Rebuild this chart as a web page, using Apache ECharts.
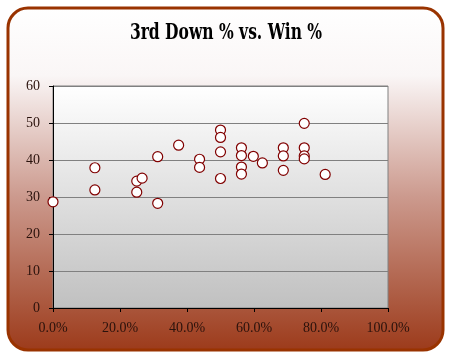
<!DOCTYPE html>
<html>
<head>
<meta charset="utf-8">
<script src="https://cdn.jsdelivr.net/npm/echarts@6/dist/echarts.min.js"></script>
<style>
html,body{margin:0;padding:0;background:#fff;}
#chart{width:454px;height:357px;}
</style>
</head>
<body>
<div id="chart"></div>
<script>
var titleText = '3rd Down % vs. Win %';
var winPct = [0, 12.5, 12.5, 25, 25, 26.6, 31.25, 31.25, 37.5, 43.75, 43.75, 50, 50, 50, 50, 56.25, 56.25, 56.25, 56.25, 59.8, 62.5, 68.75, 68.75, 68.75, 75, 75, 75, 75, 81.25];
var thirdDownPct = [28.7, 37.9, 31.9, 31.3, 34.3, 35.1, 40.9, 28.3, 44.0, 40.2, 38.0, 48.1, 46.1, 42.2, 35.0, 43.3, 41.2, 38.1, 36.2, 41.0, 39.2, 43.3, 41.1, 37.2, 49.9, 43.3, 41.1, 40.3, 36.1];

var points = winPct.map(function (w, i) { return [w, thirdDownPct[i]]; });
var labelFont = 'Liberation Serif, Times New Roman, serif';

var chart = echarts.init(document.getElementById('chart'));
chart.setOption({
  backgroundColor: 'transparent',
  animation: false,
  graphic: [{
    type: 'rect',
    z: -100,
    silent: true,
    shape: { x: 8, y: 8, width: 435, height: 342, r: 20 },
    style: {
      fill: {
        type: 'linear', x: 0, y: 0, x2: 0, y2: 1,
        colorStops: [
          { offset: 0, color: '#ffffff' },
          { offset: 0.2, color: '#faf6f6' },
          { offset: 0.55, color: '#cc9a8e' },
          { offset: 1, color: '#9c3a1a' }
        ]
      },
      stroke: '#993300',
      lineWidth: 3
    }
  }, {
    type: 'text',
    z: 10,
    silent: true,
    x: 226,
    y: 33,
    scaleX: 0.75,
    style: {
      text: titleText,
      x: 0, y: 0,
      align: 'center',
      verticalAlign: 'middle',
      fontFamily: 'DejaVu Serif Condensed, DejaVu Serif, serif',
      fontWeight: 'bold',
      fontSize: 23,
      fill: '#000'
    }
  }],
  grid: {
    left: 53, top: 86, right: 66, bottom: 49,
    show: true,
    borderColor: '#808080',
    borderWidth: 1,
    backgroundColor: {
      type: 'linear', x: 0, y: 0, x2: 0, y2: 1,
      colorStops: [
        { offset: 0, color: '#ffffff' },
        { offset: 1, color: '#c0c0c0' }
      ]
    }
  },
  xAxis: {
    type: 'value',
    min: 0, max: 100, interval: 20,
    axisLine: { show: true, onZero: false, lineStyle: { color: '#000', width: 1 } },
    axisTick: { show: true, length: 4, lineStyle: { color: '#000' } },
    splitLine: { show: false },
    axisLabel: {
      margin: 13,
      fontFamily: labelFont, fontSize: 14, color: '#2a120c',
      formatter: function (v) { return v.toFixed(1) + '%'; }
    }
  },
  yAxis: {
    type: 'value',
    min: 0, max: 60, interval: 10,
    axisLine: { show: true, onZero: false, lineStyle: { color: '#000', width: 1 } },
    axisTick: { show: true, length: 4, lineStyle: { color: '#000' } },
    splitLine: { show: true, lineStyle: { color: '#808080', width: 1 } },
    axisLabel: {
      margin: 13,
      fontFamily: labelFont, fontSize: 14, color: '#2a120c'
    }
  },
  series: [{
    type: 'scatter',
    data: points,
    symbol: 'circle',
    symbolSize: 10,
    clip: false,
    itemStyle: { color: '#ffffff', borderColor: '#800000', borderWidth: 1.2, opacity: 1 }
  }]
});
</script>
</body>
</html>
